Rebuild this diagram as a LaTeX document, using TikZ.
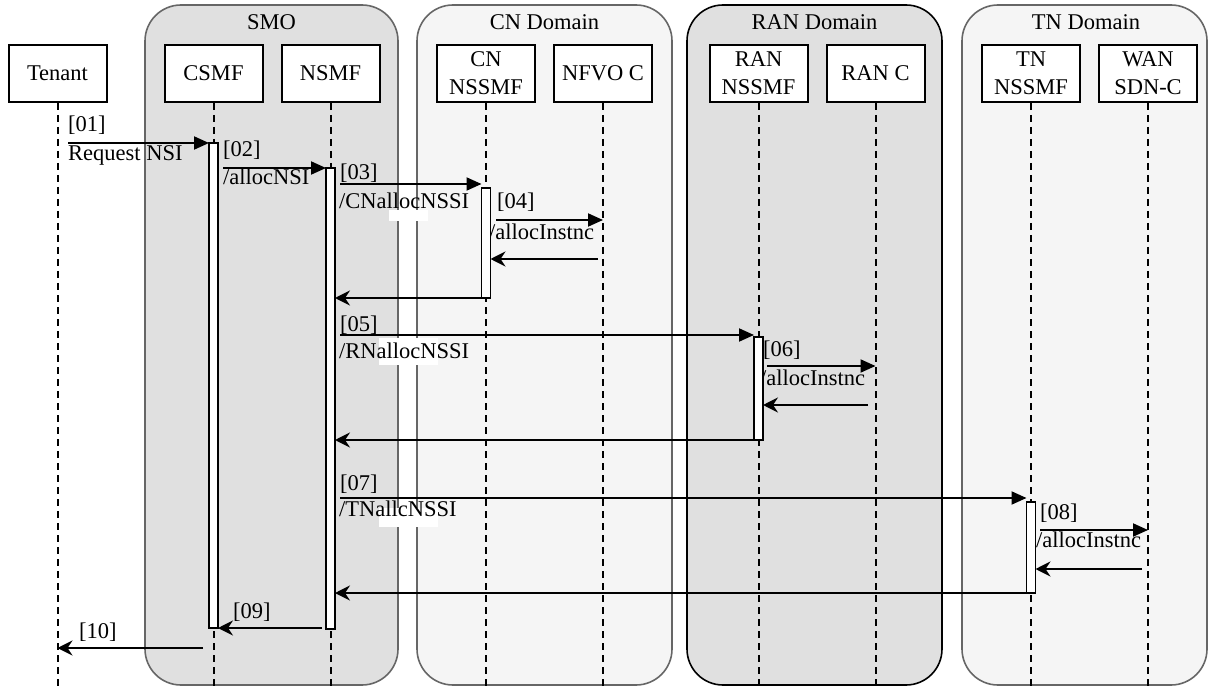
\documentclass[tikz,border=0pt]{standalone}
\usepackage{fontspec}
\setmainfont{Liberation Serif}
\usetikzlibrary{arrows.meta}

\definecolor{darkfill}{HTML}{E0E0E0}
\definecolor{lightfill}{HTML}{F5F5F5}
\definecolor{framegray}{HTML}{666666}

\begin{document}
\begin{tikzpicture}[x=1pt,y=-1pt,
  domainbox/.style={rounded corners=36pt, line width=1.6pt},
  head/.style={draw, fill=white, line width=2pt, minimum width=98pt,
    minimum height=57pt, align=center, inner sep=0pt,
    font=\fontsize{22.5}{28}\selectfont},
  life/.style={dash pattern=on 7pt off 5pt, line width=2pt},
  actbar/.style={draw, fill=white, line width=1.8pt},
  req/.style={-{Triangle[length=15pt,width=13pt]}, line width=2pt},
  ret/.style={-{Stealth[length=15pt,width=15pt,inset=5pt]}, line width=2pt},
  lbl/.style={anchor=base west, inner sep=0pt, font=\fontsize{22.5}{26}\selectfont},
  dtitle/.style={anchor=base, inner sep=0pt, font=\fontsize{22.5}{26}\selectfont},
  patch/.style={fill=white, draw=none}
]
\useasboundingbox (0,0) rectangle (1208,687);

% domain containers
\draw[domainbox, fill=darkfill, draw=framegray] (145,5) rectangle (398,685);
\draw[domainbox, fill=lightfill, draw=framegray] (417,5) rectangle (672,685);
\draw[domainbox, fill=darkfill, draw=black] (687,5) rectangle (942,685);
\draw[domainbox, fill=lightfill, draw=framegray] (962,5) rectangle (1207,685);

\node[dtitle] (tSMO) at (271.5,30) {SMO};
\node[dtitle] (tCN) at (544.5,30) {CN Domain};
\node[dtitle] (tRAN) at (814.5,30) {RAN Domain};
\node[dtitle] (tTN) at (1086,30) {TN Domain};

% label backgrounds
\fill[patch] (389,210) rectangle (428,221);
\fill[patch] (379,338) rectangle (438,365);
\fill[patch] (379,508) rectangle (438,527);

% participants
\node[head] (tenant) at (57.5,73.5) {Tenant};
\node[head] (csmf) at (213.5,73.5) {CSMF};
\node[head] (nsmf) at (330.5,73.5) {NSMF};
\node[head] (cnnssmf) at (486,73.5) {CN\\NSSMF};
\node[head] (nfvo) at (603,73.5) {NFVO C};
\node[head] (rannssmf) at (758.5,73.5) {RAN\\NSSMF};
\node[head] (ranc) at (875.5,73.5) {RAN C};
\node[head] (tnnssmf) at (1031,73.5) {TN\\NSSMF};
\node[head] (wan) at (1148,73.5) {WAN\\SDN-C};

% lifeline ends
\coordinate (eTenant) at (57.5,687);
\coordinate (eCsmf) at (213.5,687);
\coordinate (eNsmf) at (330.5,687);
\coordinate (eCn) at (486,687);
\coordinate (eNfvo) at (603,687);
\coordinate (eRan) at (758.5,687);
\coordinate (eRanc) at (875.5,687);
\coordinate (eTn) at (1031,687);
\coordinate (eWan) at (1148,687);

\foreach \p/\e in {tenant/eTenant, csmf/eCsmf, nsmf/eNsmf, cnnssmf/eCn,
  nfvo/eNfvo, rannssmf/eRan, ranc/eRanc, tnnssmf/eTn, wan/eWan}
  \draw[life] (\p.south) -- (\e);

% message labels
\node[lbl] (l01a) at (68,132) {[01]};
\node[lbl] (l01b) at (68,161) {Request NSI};
\node[lbl] (l02a) at (223,157) {[02]};
\node[lbl] (l02b) at (223,185) {/allocNSI};
\node[lbl] (l03a) at (340,180) {[03]};
\node[lbl] (l03b) at (339,209) {/CNallocNSSI};
\node[lbl] (l04a) at (497,209) {[04]};
\node[lbl] (l04b) at (489,240) {/allocInstnc};
\node[lbl] (l05a) at (340,331) {[05]};
\node[lbl] (l05b) at (339,358) {/RNallocNSSI};
\node[lbl] (l06a) at (763,356) {[06]};
\node[lbl] (l06b) at (760,385) {/allocInstnc};
\node[lbl] (l07a) at (340,490) {[07]};
\node[lbl] (l07b) at (339,516) {/TNallcNSSI};
\node[lbl] (l08a) at (1040,519) {[08]};
\node[lbl] (l08b) at (1036,547) {/allocInstnc};
\node[lbl] (l09) at (233,618) {[09]};
\node[lbl] (l10) at (79,638) {[10]};

% activation bars
\node[actbar, minimum width=9pt, minimum height=485pt, inner sep=0pt] (bCsmf) at (213.5,385.5) {};
\node[actbar, minimum width=9pt, minimum height=461pt, inner sep=0pt] (bNsmf) at (330.5,398.5) {};
\node[actbar, minimum width=9pt, minimum height=110pt, inner sep=0pt] (bCn) at (486,243) {};
\node[actbar, minimum width=9pt, minimum height=103pt, inner sep=0pt] (bRan) at (758.5,388.5) {};
\node[actbar, minimum width=9pt, minimum height=91pt, inner sep=0pt] (bTn) at (1031,547.5) {};

% message end points
\coordinate (s01) at (68,143);    \coordinate (t01) at (209,143);
\coordinate (s02) at (223,168);   \coordinate (t02) at (326,168);
\coordinate (s03) at (340,184);   \coordinate (t03) at (481.5,184);
\coordinate (s04) at (496,220);   \coordinate (t04) at (603,220);
\coordinate (s04r) at (598,259);  \coordinate (t04r) at (490.5,259);
\coordinate (s03r) at (481.5,298);\coordinate (t03r) at (335,298);
\coordinate (s05) at (340,335);   \coordinate (t05) at (754,335);
\coordinate (s06) at (767,366);   \coordinate (t06) at (875.5,366);
\coordinate (s06r) at (868,405);  \coordinate (t06r) at (763,405);
\coordinate (s05r) at (754,440);  \coordinate (t05r) at (335,440);
\coordinate (s07) at (340,498);   \coordinate (t07) at (1026.5,498);
\coordinate (s08) at (1040,530);  \coordinate (t08) at (1148,530);
\coordinate (s08r) at (1142,569); \coordinate (t08r) at (1035.5,569);
\coordinate (s07r) at (1026.5,593);\coordinate (t07r) at (335,593);
\coordinate (s09) at (322,628);   \coordinate (t09) at (218,628);
\coordinate (s10) at (203,648);   \coordinate (t10) at (57.5,648);

% requests
\draw[req] (s01) -- (t01);
\draw[req] (s02) -- (t02);
\draw[req] (s03) -- (t03);
\draw[req] (s04) -- (t04);
\draw[req] (s05) -- (t05);
\draw[req] (s06) -- (t06);
\draw[req] (s07) -- (t07);
\draw[req] (s08) -- (t08);

% replies
\draw[ret] (s04r) -- (t04r);
\draw[ret] (s03r) -- (t03r);
\draw[ret] (s06r) -- (t06r);
\draw[ret] (s05r) -- (t05r);
\draw[ret] (s08r) -- (t08r);
\draw[ret] (s07r) -- (t07r);
\draw[ret] (s09) -- (t09);
\draw[ret] (s10) -- (t10);
\end{tikzpicture}
\end{document}
